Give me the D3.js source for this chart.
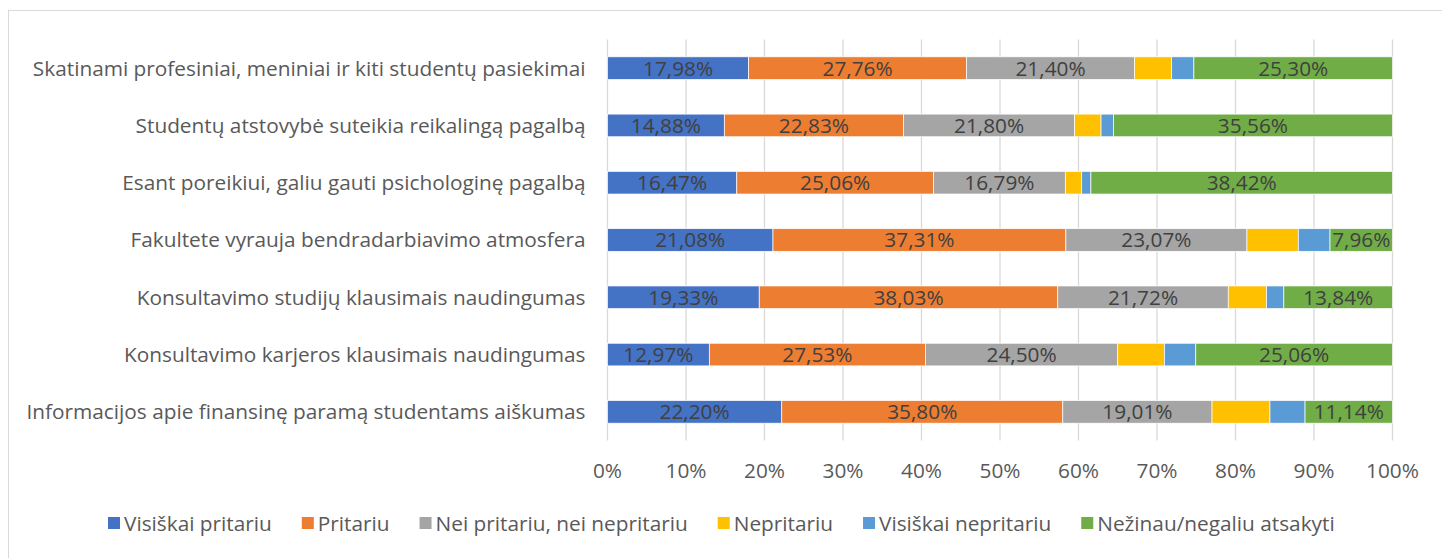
<!DOCTYPE html>
<html>
<head>
<meta charset="utf-8">
<script src="https://cdn.jsdelivr.net/npm/d3@7"></script>
<style>
  body { margin: 0; background: #fff; }
  svg text { font-family: "Open Sans", sans-serif; }
</style>
</head>
<body>
<div id="chart"></div>
<script>
// Data
var categories = [
  "Skatinami profesiniai, meniniai ir kiti studentų pasiekimai",
  "Studentų atstovybė suteikia reikalingą pagalbą",
  "Esant poreikiui, galiu gauti psichologinę pagalbą",
  "Fakultete vyrauja bendradarbiavimo atmosfera",
  "Konsultavimo studijų klausimais naudingumas",
  "Konsultavimo karjeros klausimais naudingumas",
  "Informacijos apie finansinę paramą studentams aiškumas"
]
var seriesNames = ["Visiškai pritariu", "Pritariu", "Nei pritariu, nei nepritariu", "Nepritariu", "Visiškai nepritariu", "Nežinau/negaliu atsakyti"]
var visiskaiPritariu = [17.98, 14.88, 16.47, 21.08, 19.33, 12.97, 22.20]
var pritariu         = [27.76, 22.83, 25.06, 37.31, 38.03, 27.53, 35.80]
var neiNei           = [21.40, 21.80, 16.79, 23.07, 21.72, 24.50, 19.01]
var nepritariu       = [4.73, 3.36, 2.09, 6.54, 4.88, 5.94, 7.38]
var visiskaiNepritariu = [2.83, 1.57, 1.17, 4.04, 2.20, 4.00, 4.47]
var nezinau          = [25.30, 35.56, 38.42, 7.96, 13.84, 25.06, 11.14]
var labelled = [true, true, true, false, false, true]
var xTicks = [0, 10, 20, 30, 40, 50, 60, 70, 80, 90, 100]
var colors = ["#4472c4", "#ed7d31", "#a5a5a5", "#ffc000", "#5b9bd5", "#70ad47"]

var seriesValues = [visiskaiPritariu, pritariu, neiNei, nepritariu, visiskaiNepritariu, nezinau]
var rows = categories.map((c, i) => {
  var r = { cat: c }
  seriesNames.forEach((s, k) => r[s] = seriesValues[k][i])
  return r
})

var dimensions = {
  width: 1442,
  height: 558,
  margin: { top: 39.5, right: 49.5, bottom: 117.5, left: 607.5 }
}
dimensions.boundedWidth = dimensions.width - dimensions.margin.left - dimensions.margin.right
dimensions.boundedHeight = dimensions.height - dimensions.margin.top - dimensions.margin.bottom

var svg = d3.select("#chart").append("svg")
  .attr("width", dimensions.width)
  .attr("height", dimensions.height)

// outer chart border
svg.append("rect")
  .attr("x", 8.5).attr("y", 10.5)
  .attr("width", 1450).attr("height", 560)
  .attr("fill", "none")
  .attr("stroke", "#d9d9d9")

var bounds = svg.append("g")
  .attr("transform", `translate(${dimensions.margin.left},${dimensions.margin.top})`)

var xScale = d3.scaleLinear()
  .domain([0, 100])
  .range([0, dimensions.boundedWidth])

var yScale = d3.scaleBand()
  .domain(categories)
  .range([0, dimensions.boundedHeight])
  .paddingInner(0.605)
  .paddingOuter(0.3025)

// gridlines
bounds.append("g")
  .selectAll("line")
  .data(xTicks)
  .join("line")
  .attr("x1", d => xScale(d)).attr("x2", d => xScale(d))
  .attr("y1", 0).attr("y2", dimensions.boundedHeight)
  .attr("stroke", "#d9d9d9")
  .attr("stroke-width", 1.3)

var stacked = d3.stack().keys(seriesNames)(rows)

var layers = bounds.selectAll(".layer")
  .data(stacked)
  .join("g")
  .attr("class", "layer")
  .attr("fill", (d, i) => colors[i])

layers.selectAll("rect")
  .data(d => d)
  .join("rect")
  .attr("x", d => xScale(d[0]))
  .attr("y", d => yScale(d.data.cat))
  .attr("width", d => xScale(d[1]) - xScale(d[0]))
  .attr("height", yScale.bandwidth())
  .attr("stroke", "#fff")
  .attr("stroke-width", 0.7)

var fs = "20.8px"

// data labels
stacked.forEach((layer, i) => {
  if (!labelled[i]) return
  bounds.append("g").selectAll("text")
    .data(layer)
    .join("text")
    .attr("x", d => xScale((d[0] + d[1]) / 2))
    .attr("y", d => yScale(d.data.cat) + yScale.bandwidth() / 2)
    .attr("dy", "0.36em")
    .attr("text-anchor", "middle")
    .attr("fill", "#404040")
    .style("font-size", fs)
    .text(d => d3.format(".2f")(d[1] - d[0]).replace(".", ",") + "%")
})

// category labels
bounds.append("g").selectAll("text")
  .data(categories)
  .join("text")
  .attr("x", -22)
  .attr("y", d => yScale(d) + yScale.bandwidth() / 2)
  .attr("dy", "0.36em")
  .attr("text-anchor", "end")
  .attr("fill", "#595959")
  .style("font-size", fs)
  .text(d => d)

// x axis labels
bounds.append("g").selectAll("text")
  .data(xTicks)
  .join("text")
  .attr("x", d => xScale(d))
  .attr("y", dimensions.boundedHeight + 30)
  .attr("dy", "0.36em")
  .attr("text-anchor", "middle")
  .attr("fill", "#595959")
  .style("font-size", fs)
  .text(d => d + "%")

// legend
var legend = svg.append("g").attr("transform", "translate(0,523)")
var lx = 108
seriesNames.forEach((s, i) => {
  var g = legend.append("g").attr("transform", `translate(${lx},0)`)
  g.append("rect").attr("x", 0).attr("y", -6).attr("width", 12).attr("height", 12).attr("fill", colors[i])
  var t = g.append("text").attr("x", 16).attr("dy", "0.36em")
    .attr("fill", "#595959").style("font-size", fs).text(s)
  lx += 16 + t.node().getComputedTextLength() + 30
})
</script>
</body>
</html>
